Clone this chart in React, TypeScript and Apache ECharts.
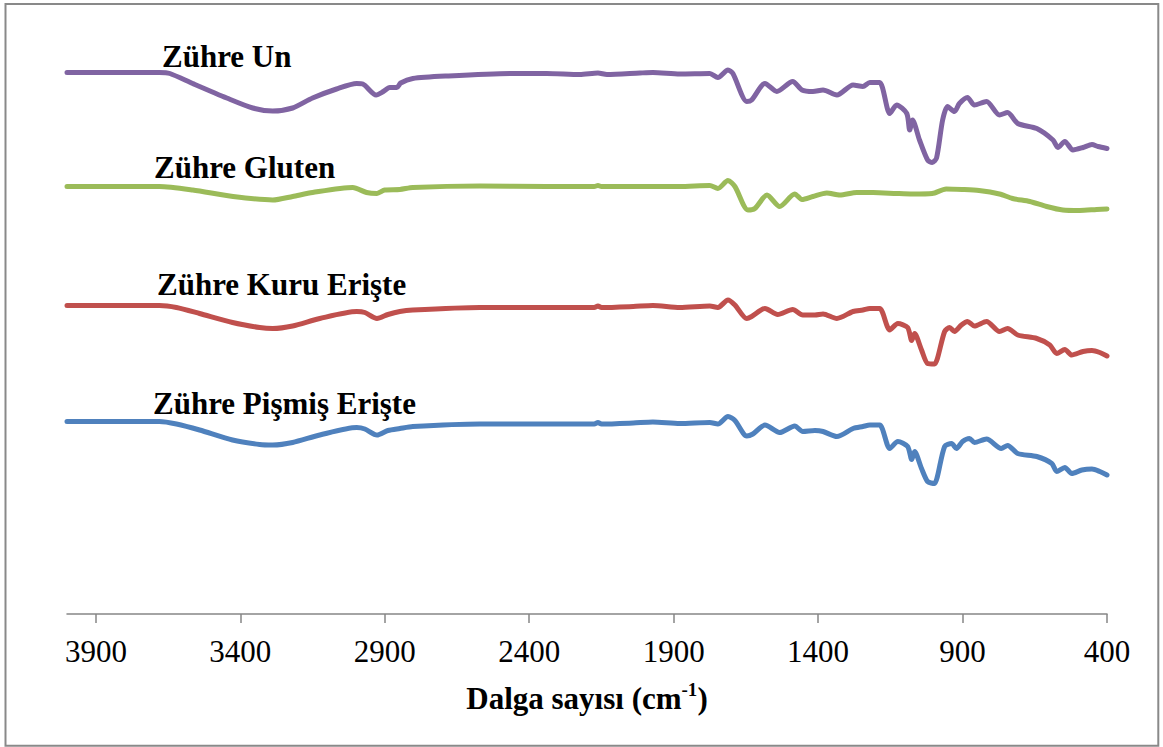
import React, { useEffect, useRef } from "react";
import * as echarts from "echarts";

// Wavenumber tick labels (cm-1)
const tickValues = [3900, 3400, 2900, 2400, 1900, 1400, 900, 400];

// Series names
const seriesNames = ["Zühre Un", "Zühre Gluten", "Zühre Kuru Erişte", "Zühre Pişmiş Erişte"];

// Zühre Un (offset transmittance, a.u.)
const unWn = [4000, 3680, 3644, 3565, 3447, 3357, 3288, 3219, 3150, 3067, 2997, 2976, 2930, 2905, 2883, 2858, 2845, 2803, 2685, 2457, 2340, 2225, 2162, 2131, 2017, 1972, 1879, 1775, 1747, 1712, 1695, 1647, 1630, 1584, 1543, 1488, 1456, 1418, 1383, 1335, 1279, 1245, 1221, 1187, 1152, 1128, 1093, 1083, 1073, 1049, 1021, 1005, 990, 969, 952, 928, 911, 883, 859, 817, 772, 744, 709, 643, 587, 570, 546, 518, 483, 452, 431, 400];
const unVal = [108.3, 108.3, 108.1, 106.1, 103.2, 101.2, 100.6, 101.2, 103.2, 105.0, 106.1, 106.0, 103.8, 104.5, 105.3, 105.3, 106.2, 107.1, 107.6, 108.1, 108.1, 107.9, 108.2, 107.9, 108.2, 108.3, 108.0, 108.1, 107.3, 108.8, 108.1, 102.5, 102.8, 106.1, 104.5, 106.5, 104.8, 104.5, 104.8, 103.8, 105.8, 105.5, 106.3, 106.3, 100.1, 101.8, 100.1, 96.8, 98.8, 94.8, 90.8, 90.3, 91.2, 98.8, 101.5, 100.5, 102.1, 103.3, 101.8, 102.5, 99.8, 100.3, 98.1, 97.1, 94.8, 93.3, 94.5, 92.8, 93.3, 93.9, 93.5, 93.1];

// Zühre Gluten
const glutenWn = [4000, 3680, 3565, 3425, 3288, 3219, 3150, 3011, 2963, 2927, 2900, 2848, 2803, 2571, 2340, 2175, 2162, 2150, 1993, 1880, 1775, 1747, 1712, 1688, 1643, 1619, 1577, 1533, 1481, 1456, 1418, 1370, 1325, 1266, 1210, 1128, 1073, 1005, 957, 902, 843, 772, 727, 667, 609, 553, 494, 436, 400];
const glutenVal = [85.5, 85.5, 84.8, 83.5, 82.8, 83.5, 84.3, 85.3, 84.3, 84.1, 84.8, 84.9, 85.3, 85.6, 85.5, 85.5, 85.7, 85.5, 85.5, 85.5, 85.7, 85.1, 86.7, 85.5, 80.8, 81.1, 83.8, 81.5, 84.0, 82.9, 83.5, 84.2, 83.8, 84.3, 84.3, 84.1, 84.0, 84.1, 85.0, 84.9, 84.7, 84.0, 83.1, 82.5, 81.5, 80.8, 80.7, 80.9, 81.0];

// Zühre Kuru Erişte
const kuruWn = [4000, 3680, 3621, 3541, 3427, 3333, 3288, 3219, 3125, 2997, 2969, 2927, 2889, 2848, 2803, 2571, 2340, 2175, 2162, 2150, 2040, 1972, 1879, 1775, 1747, 1712, 1688, 1647, 1630, 1584, 1540, 1488, 1453, 1411, 1383, 1335, 1279, 1245, 1221, 1187, 1152, 1124, 1090, 1076, 1066, 1042, 1021, 997, 987, 962, 945, 928, 904, 883, 859, 817, 772, 744, 709, 643, 598, 574, 546, 522, 483, 452, 425, 400];
const kuruVal = [61.7, 61.7, 61.3, 60.1, 58.3, 57.3, 57.1, 57.6, 59.1, 60.5, 60.3, 59.1, 59.9, 60.5, 60.8, 61.3, 61.3, 61.3, 61.6, 61.3, 61.5, 61.7, 61.3, 61.6, 61.3, 62.8, 61.8, 59.1, 59.5, 61.1, 59.9, 60.9, 59.8, 59.8, 60.0, 59.1, 60.5, 60.8, 61.1, 61.1, 56.8, 58.1, 57.3, 54.7, 56.1, 52.8, 50.1, 50.0, 51.1, 56.5, 57.3, 56.5, 57.8, 58.5, 57.6, 58.5, 56.5, 57.1, 55.8, 55.1, 53.8, 52.1, 52.9, 51.8, 52.5, 52.7, 52.3, 51.6];

// Zühre Pişmiş Erişte
const pismisWn = [4000, 3680, 3621, 3541, 3427, 3333, 3288, 3219, 3125, 2997, 2969, 2927, 2889, 2848, 2803, 2571, 2340, 2175, 2162, 2150, 2040, 1972, 1879, 1775, 1747, 1712, 1688, 1647, 1626, 1584, 1533, 1481, 1453, 1411, 1383, 1335, 1279, 1245, 1221, 1187, 1152, 1124, 1090, 1076, 1066, 1042, 1021, 997, 987, 962, 938, 921, 900, 876, 859, 817, 766, 744, 709, 643, 591, 574, 546, 522, 487, 452, 425, 400];
const pismisVal = [38.5, 38.5, 38.0, 36.8, 34.8, 33.9, 33.8, 34.3, 35.8, 37.3, 37.0, 35.8, 36.7, 37.1, 37.5, 38.0, 38.0, 38.0, 38.3, 38.0, 38.2, 38.4, 38.1, 38.3, 38.0, 39.5, 38.7, 35.6, 36.0, 37.8, 36.3, 37.6, 36.5, 36.7, 36.5, 35.5, 37.1, 37.5, 37.8, 37.8, 33.1, 34.5, 33.5, 30.9, 32.5, 29.1, 26.5, 26.1, 27.5, 33.5, 34.1, 33.1, 34.5, 35.1, 34.3, 35.0, 33.1, 33.7, 32.1, 31.5, 30.1, 28.5, 29.3, 28.1, 28.8, 29.0, 28.5, 27.8];

const seriesColors = ["#8064A2", "#9BBB59", "#C0504D", "#4F81BD"];

const zip = (xs: number[], ys: number[]) => xs.map((x, i) => [x, ys[i]]);

export default function App() {
  const ref = useRef<HTMLDivElement>(null);

  useEffect(() => {
    if (!ref.current) return;
    const chart = echarts.init(ref.current, null, { renderer: "svg" });
    const font = "Liberation Serif";
    const datasets = [zip(unWn, unVal), zip(glutenWn, glutenVal), zip(kuruWn, kuruVal), zip(pismisWn, pismisVal)];
    const labelPos = [
      [162, 56],
      [154, 167],
      [157, 284],
      [153, 403],
    ];
    chart.setOption({
      animation: false,
      backgroundColor: "#ffffff",
      grid: { left: 67, right: 56, top: 14, bottom: 133, containLabel: false, outerBoundsMode: "none" },
      xAxis: {
        type: "value",
        min: 400,
        max: 4000,
        inverse: true,
        splitLine: { show: false },
        axisLine: { show: true, lineStyle: { color: "#868686", width: 1.5 } },
        axisTick: { show: true, length: 9, inside: false, customValues: tickValues, lineStyle: { color: "#868686", width: 1.5 } },
        axisLabel: {
          customValues: tickValues,
          formatter: (v: number) => String(v),
          margin: 22,
          color: "#000000",
          fontFamily: font,
          fontSize: 31,
        },
        name: "{a|Dalga sayısı (cm}{s|-1}{a|)}",
        nameLocation: "middle",
        nameGap: 66,
        nameTextStyle: {
          rich: {
            a: { fontFamily: font, fontSize: 31, fontWeight: "bold", color: "#000", lineHeight: 36 },
            s: { fontFamily: font, fontSize: 19, fontWeight: "bold", color: "#000", lineHeight: 36, verticalAlign: "top", padding: [0, 0, 8, 0] },
          },
        },
      },
      yAxis: { type: "value", min: 0, max: 120, show: false },
      series: datasets.map((d, i) => ({
        type: "line",
        name: seriesNames[i],
        data: d,
        showSymbol: false,
        smooth: 0.25,
        lineStyle: { color: seriesColors[i], width: 5, cap: "round", join: "round" },
        itemStyle: { color: seriesColors[i] },
      })),
      graphic: [
        {
          type: "rect",
          shape: { x: 5.5, y: 4, width: 1152.8, height: 741.7 },
          style: { fill: "none", stroke: "#898989", lineWidth: 2 },
          silent: true,
        },
        ...seriesNames.map((n, i) => ({
          type: "text",
          x: labelPos[i][0],
          y: labelPos[i][1],
          style: {
            text: n,
            fontFamily: font,
            fontSize: 31,
            fontWeight: "bold",
            fill: "#000",
            verticalAlign: "middle",
          },
        })),
      ],
    });
    return () => chart.dispose();
  }, []);

  return <div ref={ref} style={{ position: "fixed", left: 0, top: 0, width: 1163, height: 747 }} />;
}
